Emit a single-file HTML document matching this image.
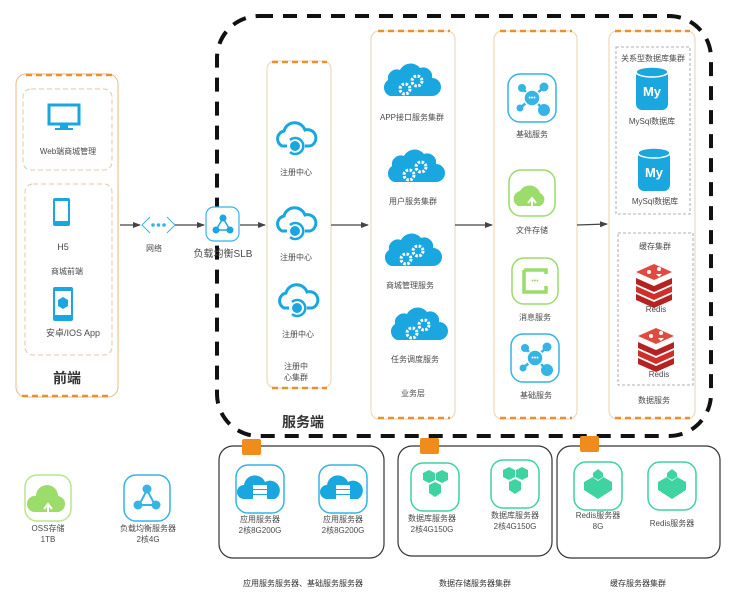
<!DOCTYPE html>
<html><head><meta charset="utf-8"><style>
body{margin:0;background:#fff}
svg text{font-family:"Liberation Sans","Noto Sans CJK SC",sans-serif;fill:#4a4a4a;font-size:9px}
</style></head><body>
<svg width="737" height="601" viewBox="0 0 737 601" xmlns="http://www.w3.org/2000/svg">
<defs>
<marker id="ar" markerWidth="8" markerHeight="8" refX="7" refY="4" orient="auto" markerUnits="userSpaceOnUse"><path d="M0,1 L8,4 L0,7 z" fill="#444"/></marker>
<g id="cloudreg">
  <path d="M-14,8 a8,8 0 0 1 2,-15 a11,11 0 0 1 21,-1 a8,8 0 0 1 5,16 z" fill="none" stroke="#1aa7e0" stroke-width="3"/>
  <circle cx="0" cy="8" r="9" fill="#fff"/>
  <path d="M-6,2 a8,8 0 1 1 0,12" fill="none" stroke="#1aa7e0" stroke-width="2.5"/>
  <circle cx="-1" cy="8" r="5" fill="#1aa7e0"/>
</g>
<g id="cloudgear">
  <path d="M-20,12 a9,9 0 0 1 -2,-16 a9,9 0 0 1 12,-10 a12,12 0 0 1 20,-2 a9,9 0 0 1 12,10 a9,9 0 0 1 0,18 z" fill="#1aa7e0"/>
  <circle cx="-5" cy="5" r="5" fill="none" stroke="#fff" stroke-width="3" stroke-dasharray="2.5 1.5"/>
  <circle cx="7" cy="-3" r="5" fill="none" stroke="#fff" stroke-width="3" stroke-dasharray="2.5 1.5"/>
</g>
<g id="hub">
  <rect x="-24" y="-24" width="48" height="48" rx="12" fill="#fff" stroke="#35b4e5" stroke-width="1.5"/>
  <g stroke="#35b4e5" stroke-width="2.5"><line x1="0" y1="0" x2="-10" y2="-10"/><line x1="0" y1="0" x2="12" y2="-11"/><line x1="0" y1="0" x2="-12" y2="10"/><line x1="0" y1="0" x2="12" y2="12"/></g>
  <circle cx="-10" cy="-10" r="4" fill="#35b4e5"/><circle cx="12" cy="-11" r="4.5" fill="#35b4e5"/><circle cx="-12" cy="10" r="3.5" fill="#35b4e5"/><circle cx="12" cy="12" r="6" fill="#35b4e5"/>
  <circle cx="0" cy="0" r="8" fill="#35b4e5" stroke="#fff" stroke-width="1.5"/>
  <text x="0" y="2" text-anchor="middle" style="fill:#fff;font-size:7px">•••</text>
</g>
<g id="mysql">
  <rect x="-16" y="-20" width="32" height="40" rx="6" fill="#1aa7e0"/>
  <ellipse cx="0" cy="-18" rx="16" ry="5" fill="#1aa7e0" stroke="#fff" stroke-width="1.5"/>
  <text x="0" y="6" text-anchor="middle" style="fill:#fff;font-size:13px;font-weight:bold">My</text>
</g>
<g id="redis">
  <path d="M-18,10 l18,8 l18,-8 l0,6 l-18,8 l-18,-8z" fill="#b52222"/>
  <path d="M-18,2 l18,8 l18,-8 l0,6 l-18,8 l-18,-8z" fill="#d0302b"/>
  <path d="M-18,-6 l18,8 l18,-8 l0,6 l-18,8 l-18,-8z" fill="#b52222"/>
  <path d="M-18,-12 l18,-8 l18,8 l-18,8z" fill="#e04a3f"/>
  <circle cx="-5" cy="-12" r="2" fill="#fff"/><circle cx="5" cy="-15" r="2" fill="#fff"/><path d="M2,-10 l6,0 l-3,3z" fill="#fff"/>
</g>
<g id="appsrv">
  <rect x="-24" y="-24" width="48" height="48" rx="12" fill="#fff" stroke="#35b4e5" stroke-width="1.5"/>
  <path d="M-16,10 a7,7 0 0 1 0,-14 a11,11 0 0 1 21,-3 a8,8 0 0 1 10,17 z" fill="#1aa7e0"/>
  <rect x="-7" y="-4" width="14" height="4" fill="#fff"/><rect x="-7" y="1" width="14" height="4" fill="#fff"/><rect x="-7" y="6" width="14" height="4" fill="#fff"/>
</g>
<g id="dbsrv">
  <rect x="-24" y="-24" width="48" height="48" rx="12" fill="#fff" stroke="#3ed3a0" stroke-width="1.5"/>
  <path d="M-12,-14 l6,-3 l6,3 l0,7 l-6,3 l-6,-3z M1,-14 l6,-3 l6,3 l0,7 l-6,3 l-6,-3z M-6,-2 l6,-3 l6,3 l0,8 l-6,4 l-6,-4z" fill="#3ed3a0"/>
</g>
<g id="rdsrv">
  <rect x="-24" y="-24" width="48" height="48" rx="12" fill="#fff" stroke="#3ed3a0" stroke-width="1.5"/>
  <path d="M-14,-4 l14,-8 l14,8 l0,8 l-14,9 l-14,-9z" fill="#3ed3a0"/>
  <path d="M-7,-10 l7,-5 l7,5 l-7,5z" fill="#fff"/>
  <path d="M-5,-13 l5,-4 l5,4 l0,4 l-5,3 l-5,-3z" fill="#3ed3a0"/>
</g>
</defs>

<rect x="217" y="16" width="494" height="420" rx="42" fill="none" stroke="#111" stroke-width="4" stroke-dasharray="14 10"/>

<rect x="16" y="74" width="102" height="323" rx="10" fill="none" stroke="#eeb77e" stroke-width="1"/>
<line x1="26" y1="75" x2="112" y2="75" stroke="#e8912f" stroke-width="2.5" stroke-dasharray="6 4"/>
<line x1="22" y1="396" x2="112" y2="396" stroke="#e8912f" stroke-width="2.5" stroke-dasharray="6 4"/>
<rect x="23" y="89" width="89" height="81" rx="8" fill="none" stroke="#e6c7a8" stroke-width="1" stroke-dasharray="5 3"/>
<rect x="25" y="184" width="87" height="171" rx="8" fill="none" stroke="#e6c7a8" stroke-width="1" stroke-dasharray="5 3"/>
<rect x="49" y="105" width="30" height="19" fill="none" stroke="#1aa7e0" stroke-width="3"/>
<rect x="60" y="124" width="8" height="4" fill="#1aa7e0"/><rect x="55" y="128" width="18" height="2" fill="#1aa7e0"/>
<text x="68" y="154" text-anchor="middle" style="font-size:8px">Web端商城管理</text>
<rect x="53" y="198" width="17" height="28" rx="2" fill="#1aa7e0"/><rect x="55" y="201" width="13" height="20" fill="#fff"/>
<text x="63" y="250" text-anchor="middle">H5</text>
<text x="67" y="274" text-anchor="middle" style="font-size:8px">商城前端</text>
<rect x="53" y="287" width="20" height="34" rx="2" fill="#1aa7e0"/><rect x="55" y="291" width="16" height="24" fill="#fff"/>
<path d="M58,300 l5,-3 l5,3 l0,6 l-5,3 l-5,-3z" fill="#1aa7e0"/>
<text x="73" y="336" text-anchor="middle" style="font-size:9px">安卓/IOS App</text>
<text x="67" y="383" text-anchor="middle" style="font-size:14px;font-weight:bold;fill:#333">前端</text>

<line x1="120" y1="225" x2="140" y2="225" stroke="#444" stroke-width="1.3" marker-end="url(#ar)"/>
<path d="M150,217 l-8,8 l8,8 M167,217 l8,8 l-8,8" fill="none" stroke="#35b4e5" stroke-width="1"/>
<circle cx="153" cy="225" r="1.8" fill="#35b4e5"/><circle cx="158.5" cy="225" r="1.8" fill="#35b4e5"/><circle cx="164" cy="225" r="1.8" fill="#35b4e5"/>
<text x="154" y="251" text-anchor="middle" style="font-size:8px">网络</text>
<line x1="175" y1="225" x2="204" y2="225" stroke="#444" stroke-width="1.3" marker-end="url(#ar)"/>
<rect x="206" y="207" width="33" height="34" rx="8" fill="#fff" stroke="#35b4e5" stroke-width="1.2"/>
<g stroke="#1aa7e0" stroke-width="1.5"><line x1="223" y1="218" x2="216" y2="230"/><line x1="223" y1="218" x2="230" y2="230"/><line x1="216" y1="230" x2="230" y2="230"/></g>
<circle cx="223" cy="218" r="3.5" fill="#1aa7e0"/><circle cx="216" cy="230" r="3.5" fill="#1aa7e0"/><circle cx="230" cy="230" r="3.5" fill="#1aa7e0"/>
<text x="223" y="257" text-anchor="middle" style="font-size:10px">负载均衡SLB</text>
<line x1="240" y1="225" x2="265" y2="225" stroke="#444" stroke-width="1.3" marker-end="url(#ar)"/>

<rect x="267" y="61" width="64" height="327" rx="8" fill="none" stroke="#eed0b0" stroke-width="1"/>
<line x1="272" y1="62" x2="327" y2="62" stroke="#e8912f" stroke-width="2.5" stroke-dasharray="6 4"/>
<line x1="272" y1="388" x2="327" y2="388" stroke="#e8912f" stroke-width="2.5" stroke-dasharray="6 4"/>
<use href="#cloudreg" x="296" y="138"/><text x="296" y="175" text-anchor="middle" style="font-size:8px">注册中心</text>
<use href="#cloudreg" x="296" y="223"/><text x="296" y="260" text-anchor="middle" style="font-size:8px">注册中心</text>
<use href="#cloudreg" x="298" y="300"/><text x="298" y="337" text-anchor="middle" style="font-size:8px">注册中心</text>
<text x="296" y="369" text-anchor="middle" style="font-size:8px">注册中</text>
<text x="296" y="380" text-anchor="middle" style="font-size:8px">心集群</text>
<line x1="331" y1="225" x2="368" y2="225" stroke="#444" stroke-width="1.3" marker-end="url(#ar)"/>

<rect x="371" y="31" width="84" height="388" rx="8" fill="none" stroke="#eed0b0" stroke-width="1"/>
<line x1="378" y1="31" x2="450" y2="31" stroke="#e8912f" stroke-width="2.5" stroke-dasharray="6 4"/>
<line x1="378" y1="418" x2="450" y2="418" stroke="#e8912f" stroke-width="2.5" stroke-dasharray="6 4"/>
<use href="#cloudgear" x="410" y="84"/><text x="412" y="120" text-anchor="middle" style="font-size:8px">APP接口服务集群</text>
<use href="#cloudgear" x="414" y="170"/><text x="413" y="204" text-anchor="middle" style="font-size:8px">用户服务集群</text>
<use href="#cloudgear" x="411" y="254"/><text x="410" y="288" text-anchor="middle" style="font-size:8px">商城管理服务</text>
<use href="#cloudgear" x="417" y="328"/><text x="415" y="362" text-anchor="middle" style="font-size:8px">任务调度服务</text>
<text x="413" y="396" text-anchor="middle" style="font-size:8px">业务层</text>
<line x1="455" y1="225" x2="492" y2="225" stroke="#444" stroke-width="1.3" marker-end="url(#ar)"/>

<rect x="494" y="31" width="83" height="388" rx="8" fill="none" stroke="#eed0b0" stroke-width="1"/>
<line x1="500" y1="31" x2="572" y2="31" stroke="#e8912f" stroke-width="2.5" stroke-dasharray="6 4"/>
<line x1="500" y1="418" x2="572" y2="418" stroke="#e8912f" stroke-width="2.5" stroke-dasharray="6 4"/>
<use href="#hub" x="532" y="98"/><text x="532" y="137" text-anchor="middle" style="font-size:8px">基础服务</text>
<rect x="509" y="170" width="46" height="46" rx="12" fill="#fff" stroke="#9bdc6a" stroke-width="1.5"/>
<path d="M518,206 a8,8 0 0 1 2,-15 a11,11 0 0 1 20,2 a7,7 0 0 1 0,13z" fill="#9bdc6a"/>
<path d="M532,208 l0,-9 m-4,4 l4,-5 l4,5" fill="none" stroke="#fff" stroke-width="2"/>
<text x="532" y="233" text-anchor="middle" style="font-size:8px">文件存储</text>
<rect x="512" y="258" width="46" height="46" rx="12" fill="#fff" stroke="#9bdc6a" stroke-width="1.5"/>
<path d="M524,270 h22 v4 M524,270 v22 h22 v-6 M524,292" fill="none" stroke="#9bdc6a" stroke-width="3.5"/>
<text x="535" y="283" text-anchor="middle" style="fill:#9bdc6a;font-size:7px">•••</text>
<text x="535" y="320" text-anchor="middle" style="font-size:8px">消息服务</text>
<use href="#hub" x="535" y="358"/><text x="536" y="398" text-anchor="middle" style="font-size:8px">基础服务</text>
<line x1="577" y1="225" x2="607" y2="224" stroke="#444" stroke-width="1.3" marker-end="url(#ar)"/>

<rect x="609" y="31" width="86" height="388" rx="8" fill="none" stroke="#eed0b0" stroke-width="1"/>
<line x1="615" y1="31" x2="690" y2="31" stroke="#e8912f" stroke-width="2.5" stroke-dasharray="6 4"/>
<line x1="615" y1="418" x2="690" y2="418" stroke="#e8912f" stroke-width="2.5" stroke-dasharray="6 4"/>
<rect x="616" y="47" width="74" height="167" fill="none" stroke="#999" stroke-width="0.8" stroke-dasharray="3 2"/>
<text x="653" y="61" text-anchor="middle" style="font-size:8px">关系型数据库集群</text>
<use href="#mysql" x="652" y="90"/><text x="652" y="124" text-anchor="middle" style="font-size:8px">MySql数据库</text>
<use href="#mysql" x="654" y="171"/><text x="655" y="204" text-anchor="middle" style="font-size:8px">MySql数据库</text>
<rect x="618" y="233" width="75" height="152" fill="none" stroke="#999" stroke-width="0.8" stroke-dasharray="3 2"/>
<text x="655" y="249" text-anchor="middle" style="font-size:8px">缓存集群</text>
<use href="#redis" x="654" y="284"/><text x="656" y="312" text-anchor="middle" style="font-size:8px">Redis</text>
<use href="#redis" x="656" y="348"/><text x="659" y="377" text-anchor="middle" style="font-size:8px">Redis</text>
<text x="654" y="403" text-anchor="middle" style="font-size:8px">数据服务</text>

<text x="303" y="427" text-anchor="middle" style="font-size:14px;font-weight:bold;fill:#333">服务端</text>

<rect x="25" y="475" width="46" height="46" rx="12" fill="#fff" stroke="#b9e58d" stroke-width="1.5"/>
<path d="M34,512 a8,8 0 0 1 2,-16 a11,11 0 0 1 22,0 a8,8 0 0 1 -2,16z" fill="#9bdc6a"/>
<path d="M48,514 l0,-9 m-4,4 l4,-5 l4,5" fill="none" stroke="#fff" stroke-width="2"/>
<text x="48" y="531" text-anchor="middle" style="font-size:8px">OSS存储</text>
<text x="48" y="542" text-anchor="middle" style="font-size:8px">1TB</text>
<rect x="124" y="475" width="46" height="46" rx="12" fill="#fff" stroke="#35b4e5" stroke-width="1.5"/>
<g stroke="#35b4e5" stroke-width="2"><line x1="147" y1="490" x2="139" y2="505"/><line x1="147" y1="490" x2="155" y2="505"/><line x1="139" y1="505" x2="155" y2="505"/></g>
<circle cx="147" cy="489" r="4.5" fill="#35b4e5"/><circle cx="138" cy="505" r="4.5" fill="#35b4e5"/><circle cx="156" cy="505" r="4.5" fill="#35b4e5"/>
<text x="148" y="531" text-anchor="middle" style="font-size:8px">负载均衡服务器</text>
<text x="148" y="542" text-anchor="middle" style="font-size:8px">2核4G</text>

<rect x="219" y="446" width="165" height="112" rx="14" fill="none" stroke="#333" stroke-width="1.2"/>
<rect x="242" y="439" width="19" height="16" rx="2" fill="#f08c1c"/>
<use href="#appsrv" x="260" y="489"/><text x="260" y="522" text-anchor="middle" style="font-size:8px">应用服务器</text><text x="260" y="533" text-anchor="middle" style="font-size:8px">2核8G200G</text>
<use href="#appsrv" x="343" y="489"/><text x="343" y="522" text-anchor="middle" style="font-size:8px">应用服务器</text><text x="343" y="533" text-anchor="middle" style="font-size:8px">2核8G200G</text>
<text x="303" y="586" text-anchor="middle" style="font-size:8px;fill:#333">应用服务服务器、基础服务服务器</text>

<rect x="398" y="446" width="154" height="110" rx="14" fill="none" stroke="#333" stroke-width="1.2"/>
<rect x="420" y="438" width="19" height="16" rx="2" fill="#f08c1c"/>
<use href="#dbsrv" x="435" y="487"/><text x="432" y="521" text-anchor="middle" style="font-size:8px">数据库服务器</text><text x="432" y="532" text-anchor="middle" style="font-size:8px">2核4G150G</text>
<use href="#dbsrv" x="515" y="484"/><text x="515" y="518" text-anchor="middle" style="font-size:8px">数据库服务器</text><text x="515" y="529" text-anchor="middle" style="font-size:8px">2核4G150G</text>
<text x="475" y="586" text-anchor="middle" style="font-size:8px;fill:#333">数据存储服务器集群</text>

<rect x="557" y="446" width="163" height="112" rx="14" fill="none" stroke="#333" stroke-width="1.2"/>
<rect x="580" y="436" width="19" height="16" rx="2" fill="#f08c1c"/>
<use href="#rdsrv" x="598" y="486"/><text x="598" y="518" text-anchor="middle" style="font-size:8px">Redis服务器</text><text x="598" y="529" text-anchor="middle" style="font-size:8px">8G</text>
<use href="#rdsrv" x="672" y="486"/><text x="672" y="526" text-anchor="middle" style="font-size:8px">Redis服务器</text>
<text x="638" y="586" text-anchor="middle" style="font-size:8px;fill:#333">缓存服务器集群</text>
</svg>
</body></html>
